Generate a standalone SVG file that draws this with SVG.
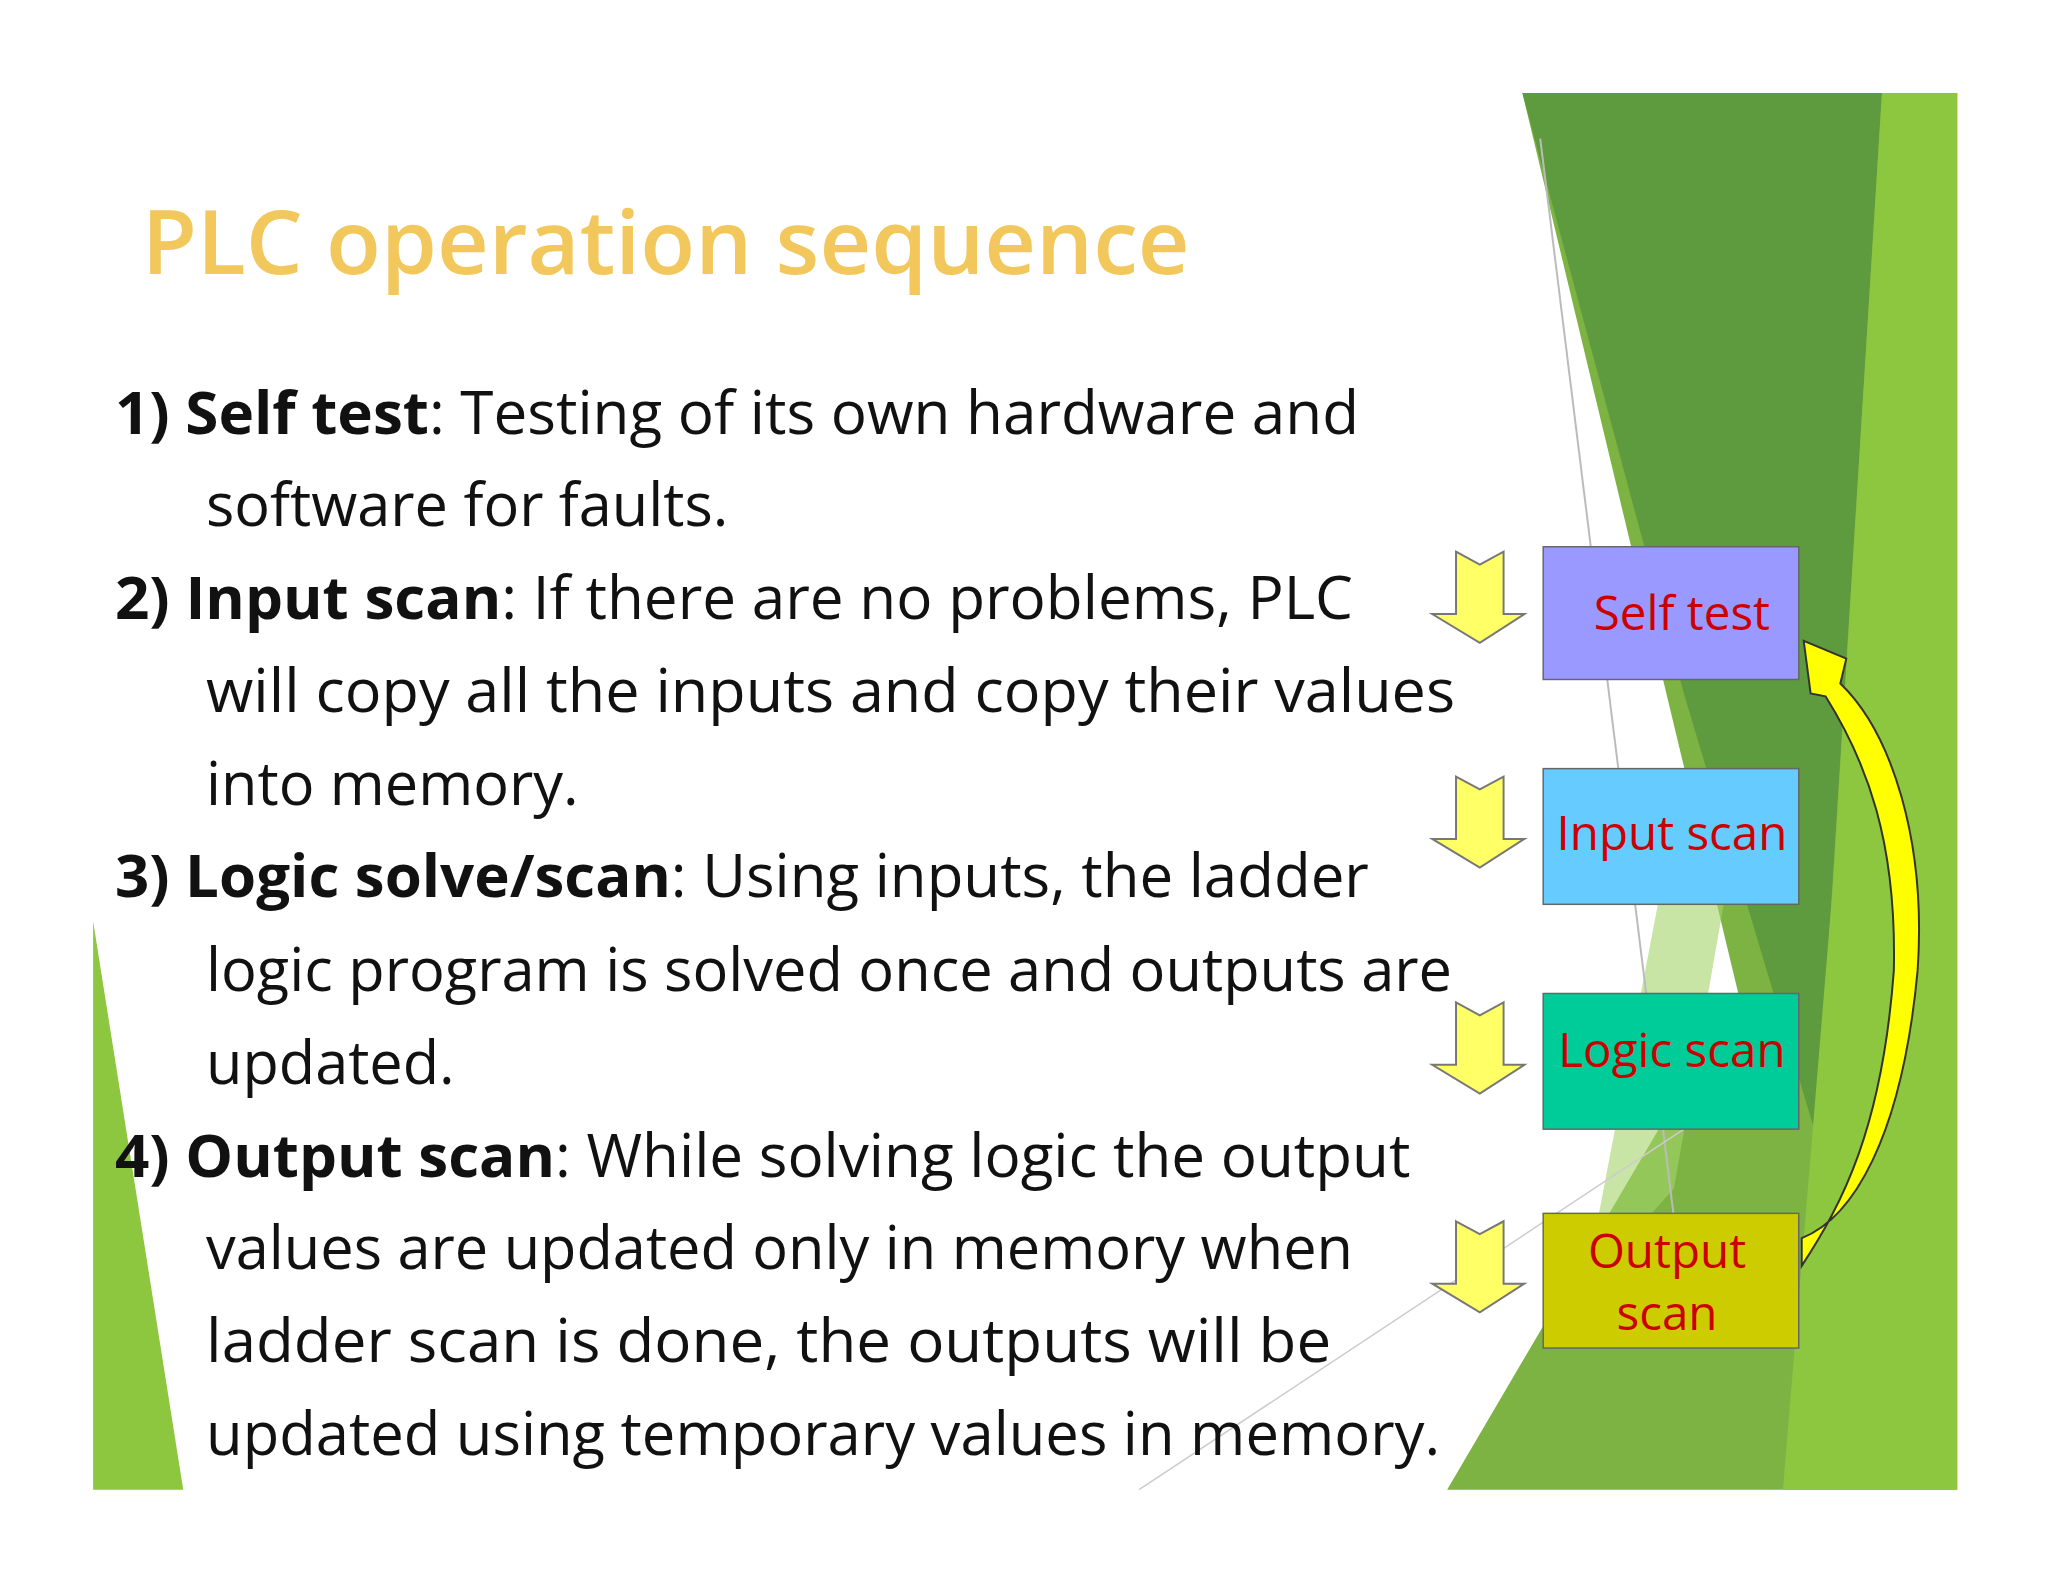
<svg xmlns="http://www.w3.org/2000/svg" width="2048" height="1582" viewBox="0 0 2048 1582">
<style>
.t{font-family:"Open Sans","DejaVu Sans",sans-serif;font-size:60px;fill:#111}
.b{font-weight:bold}
.bl{font-family:"Open Sans","DejaVu Sans",sans-serif;font-size:48px;fill:#cc0000;text-anchor:middle}
.box{stroke:#666;stroke-width:1.5}
.dn{fill:#ffff66;stroke:#777;stroke-width:2}
</style>
<rect width="2048" height="1582" fill="#fff"/>
<g transform="scale(0.9905)">
<g id="background">
<polygon points="1537,94 1976,94 1976,1504 1461,1504 1755,1003" fill="#7cb342"/>
<polygon points="1537,94 1900,94 1834,1148 1700,700" fill="#5e9a3e"/>
<polygon points="1900,94 1976,94 1976,1504 1800,1504 1850,900" fill="#8dc63f"/>
<polygon points="1680,880 1760,800 1690,1200 1600,1300" fill="#a5d46a" opacity="0.6"/>
<polygon points="94,930 94,1504 185,1504" fill="#8dc63f"/>
<line x1="1555" y1="140" x2="1700" y2="1310" stroke="#bbb" stroke-width="2"/>
<line x1="1150" y1="1504" x2="1700" y2="1140" stroke="#ccc" stroke-width="1.5"/>
</g>
<text x="143" y="277" font-family="Open Sans,DejaVu Sans,sans-serif" font-size="90" font-weight="600" fill="#f2c75c" textLength="1058" lengthAdjust="spacingAndGlyphs">PLC operation sequence</text>
<g id="body">
<text class="t" x="116" y="438" textLength="1256" lengthAdjust="spacingAndGlyphs"><tspan class="b">1) Self test</tspan>: Testing of its own hardware and</text>
<text class="t" x="208" y="531">software for faults.</text>
<text class="t" x="116" y="625" textLength="1250" lengthAdjust="spacingAndGlyphs"><tspan class="b">2) Input scan</tspan>: If there are no problems, PLC</text>
<text class="t" x="208" y="719" textLength="1261" lengthAdjust="spacingAndGlyphs">will copy all the inputs and copy their values</text>
<text class="t" x="208" y="813">into memory.</text>
<text class="t" x="116" y="906" textLength="1266" lengthAdjust="spacingAndGlyphs"><tspan class="b">3) Logic solve/scan</tspan>: Using inputs, the ladder</text>
<text class="t" x="208" y="1000" textLength="1258" lengthAdjust="spacingAndGlyphs">logic program is solved once and outputs are</text>
<text class="t" x="208" y="1094">updated.</text>
<text class="t" x="116" y="1188" textLength="1308" lengthAdjust="spacingAndGlyphs"><tspan class="b">4) Output scan</tspan>: While solving logic the output</text>
<text class="t" x="208" y="1281" textLength="1158" lengthAdjust="spacingAndGlyphs">values are updated only in memory when</text>
<text class="t" x="208" y="1375" textLength="1136" lengthAdjust="spacingAndGlyphs">ladder scan is done,  the outputs will be</text>
<text class="t" x="208" y="1469" textLength="1246" lengthAdjust="spacingAndGlyphs">updated using temporary values in  memory.</text>
</g>
<g id="connectors">
<polygon class="dn" points="1470,557 1494,570 1518,557 1518,620 1539,620 1494,649 1446,620 1470,620"/>
<polygon class="dn" points="1470,784 1494,797 1518,784 1518,847 1539,847 1494,876 1446,847 1470,847"/>
<polygon class="dn" points="1470,1012 1494,1025 1518,1012 1518,1075 1539,1075 1494,1104 1446,1075 1470,1075"/>
<polygon class="dn" points="1470,1233 1494,1246 1518,1233 1518,1296 1539,1296 1494,1325 1446,1296 1470,1296"/>
<path d="M1819,1250 C1870,1230 1920,1150 1936,980 C1945,850 1910,740 1858,690 L1864,665 L1821,647 L1828,700 L1843,703 C1885,770 1915,850 1912,980 C1900,1140 1860,1215 1819,1278 Z" fill="#ffff00" stroke="#333" stroke-width="2"/>
</g>
<g id="self"><rect class="box" x="1558" y="552" width="258" height="134" fill="#9999ff"/><text class="bl" x="1698" y="636">Self test</text></g>
<g id="input"><rect class="box" x="1558" y="776" width="258" height="137" fill="#66ccff"/><text class="bl" x="1688" y="858">Input scan</text></g>
<g id="logic"><rect class="box" x="1558" y="1003" width="258" height="137" fill="#00cc99"/><text class="bl" x="1688" y="1077">Logic scan</text></g>
<g id="output"><rect class="box" x="1558" y="1225" width="258" height="136" fill="#cccc00"/><text class="bl" x="1683" y="1280">Output</text><text class="bl" x="1683" y="1343">scan</text></g>
</g>
</svg>
